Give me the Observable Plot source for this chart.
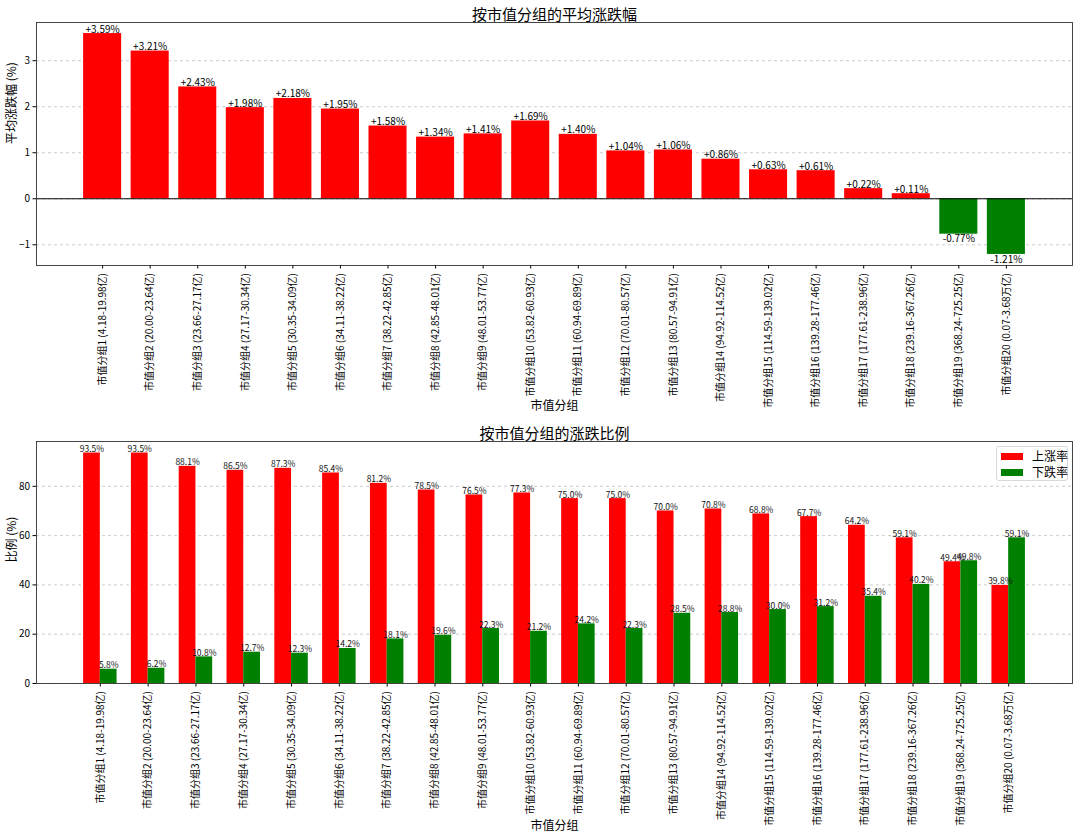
<!DOCTYPE html>
<html>
<head>
<meta charset="utf-8">
<script src="https://cdn.jsdelivr.net/npm/d3@7"></script>
<script src="https://cdn.jsdelivr.net/npm/@observablehq/plot@0.6"></script>
<style>
  body { margin: 0; background: #fff; font-family: "Noto Sans CJK SC", "Noto Sans", sans-serif; }
  #wrap { position: relative; width: 1080px; height: 839px; overflow: hidden; }
  #chartTop, #chartBot { display: block; line-height: 0; }
  #legend { position: absolute; left: 996px; top: 446px; width: 72px; height: 35px; box-sizing: border-box;
            border: 1px solid #d9d9d9; border-radius: 3px; background: #fff; font-size: 12px; color: #000; }
  #legend .row { position: absolute; left: 4px; height: 16px; line-height: 16px; white-space: nowrap; }
  #legend .sw { display: inline-block; width: 22px; height: 7px; vertical-align: middle; margin-right: 9px; margin-top: -2px; }
</style>
</head>
<body>
<div id="wrap">
  <div id="chartTop"></div>
  <div id="chartBot"></div>
  <div id="legend"></div>
</div>
<script>
// ---- data ----
const groups = ["市值分组1","市值分组2","市值分组3","市值分组4","市值分组5","市值分组6","市值分组7","市值分组8","市值分组9","市值分组10",
                "市值分组11","市值分组12","市值分组13","市值分组14","市值分组15","市值分组16","市值分组17","市值分组18","市值分组19","市值分组20"];
const ranges = ["4.18-19.98亿","20.00-23.64亿","23.66-27.17亿","27.17-30.34亿","30.35-34.09亿","34.11-38.22亿","38.22-42.85亿","42.85-48.01亿",
                "48.01-53.77亿","53.82-60.93亿","60.94-69.89亿","70.01-80.57亿","80.57-94.91亿","94.92-114.52亿","114.59-139.02亿",
                "139.28-177.46亿","177.61-238.96亿","239.16-367.26亿","368.24-725.25亿","0.07-3.68万亿"];
const avgChange = [3.59, 3.21, 2.43, 1.98, 2.18, 1.95, 1.58, 1.34, 1.41, 1.69, 1.40, 1.04, 1.06, 0.86, 0.63, 0.61, 0.22, 0.11, -0.77, -1.21];
const upRate    = [93.5, 93.5, 88.1, 86.5, 87.3, 85.4, 81.2, 78.5, 76.5, 77.3, 75.0, 75.0, 70.0, 70.8, 68.8, 67.7, 64.2, 59.1, 49.4, 39.8];
const downRate  = [5.8, 6.2, 10.8, 12.7, 12.3, 14.2, 18.1, 19.6, 22.3, 21.2, 24.2, 22.3, 28.5, 28.8, 30.0, 31.2, 35.4, 40.2, 49.8, 59.1];
const yTicksTop = [-1, 0, 1, 2, 3];
const yTicksBot = [0, 20, 40, 60, 80];
const seriesNames = ["上涨率", "下跌率"];
const titleTop = "按市值分组的平均涨跌幅";
const titleBot = "按市值分组的涨跌比例";
const yLabelTop = "平均涨跌幅 (%)";
const yLabelBot = "比例 (%)";
const xLabel = "市值分组";

// ---- styling constants ----
const UP = "#ff0000", DOWN = "#008000";
const FONT = "'Noto Sans CJK SC', 'Noto Sans', sans-serif";

const rows = groups.map((g, i) => ({
  i, label: `${g} (${ranges[i]})`, avg: avgChange[i], up: upRate[i], down: downRate[i]
}));
const n = rows.length;
const tickIdx = rows.map(d => d.i);
const intFmt = d => d < 0 ? "\u2212" + Math.abs(d) : String(d);

const grid = (ticks) => Plot.gridY(ticks, {stroke: "#b0b0b0", strokeOpacity: 0.8, strokeDasharray: "3,3", strokeWidth: 0.8});
const xAxis = () => Plot.axisX({ticks: tickIdx, tickFormat: i => rows[i].label, tickRotate: -90, tickSize: 3.5,
                                tickPadding: 4, fontSize: 10, fill: "#000", label: null});
const yAxis = (ticks) => Plot.axisY({ticks, tickFormat: intFmt, tickSize: 3.5, tickPadding: 3, fontSize: 10, fill: "#000", label: null});

// ---- top chart ----
const w1 = 0.8;
const xPad1 = 0.05 * ((n - 1) + w1);
const yMin = d3.min(avgChange), yMax = d3.max(avgChange), ySpan = yMax - yMin;

const chartTop = Plot.plot({
  width: 1080, height: 420,
  marginTop: 22, marginBottom: 155, marginLeft: 36, marginRight: 8,
  style: {fontFamily: FONT, fontSize: "10px", color: "#000", background: "#fff"},
  x: {type: "linear", domain: [-w1 / 2 - xPad1, n - 1 + w1 / 2 + xPad1]},
  y: {domain: [yMin - 0.05 * ySpan, yMax + 0.05 * ySpan]},
  marks: [
    grid(yTicksTop),
    Plot.rect(rows, {x1: d => d.i - w1 / 2, x2: d => d.i + w1 / 2, y1: 0, y2: "avg",
                     fill: d => d.avg >= 0 ? UP : DOWN}),
    Plot.ruleY([0], {stroke: "#000", strokeWidth: 1}),
    Plot.text(rows.filter(d => d.avg >= 0), {x: "i", y: "avg", text: d => `+${d.avg.toFixed(2)}%`,
                     lineAnchor: "bottom", dy: -1, fontSize: 10, fill: "#000"}),
    Plot.text(rows.filter(d => d.avg < 0), {x: "i", y: "avg", text: d => `${d.avg.toFixed(2)}%`,
                     lineAnchor: "top", dy: 1, fontSize: 10, fill: "#000"}),
    yAxis(yTicksTop),
    xAxis(),
    Plot.frame({stroke: "#333", strokeWidth: 0.9}),
    Plot.text([titleTop], {frameAnchor: "top", dy: -3, lineAnchor: "bottom", fontSize: 15}),
    Plot.text([yLabelTop], {frameAnchor: "left", dx: -24, rotate: -90, fontSize: 12}),
    Plot.text([xLabel], {frameAnchor: "bottom", dy: 144, fontSize: 12})
  ]
});
document.getElementById("chartTop").append(chartTop);

// ---- bottom chart ----
const w2 = 0.35;
const xPad2 = 0.05 * ((n - 1) + 2 * w2);
const upMax = d3.max([...upRate, ...downRate]);

const chartBot = Plot.plot({
  width: 1080, height: 419,
  marginTop: 21, marginBottom: 156, marginLeft: 36, marginRight: 8,
  style: {fontFamily: FONT, fontSize: "10px", color: "#000", background: "#fff"},
  x: {type: "linear", domain: [-w2 - xPad2, n - 1 + w2 + xPad2]},
  y: {domain: [0, upMax * 1.05]},
  marks: [
    grid(yTicksBot),
    Plot.rect(rows, {x1: d => d.i - w2, x2: d => d.i, y1: 0, y2: "up", fill: UP}),
    Plot.rect(rows, {x1: d => d.i, x2: d => d.i + w2, y1: 0, y2: "down", fill: DOWN}),
    Plot.text(rows, {x: d => d.i - w2 / 2, y: "up", text: d => `${d.up.toFixed(1)}%`,
                     lineAnchor: "bottom", dy: -1, fontSize: 8.5, fill: "#111"}),
    Plot.text(rows, {x: d => d.i + w2 / 2, y: "down", text: d => `${d.down.toFixed(1)}%`,
                     lineAnchor: "bottom", dy: -1, fontSize: 8.5, fill: "#111"}),
    yAxis(yTicksBot),
    xAxis(),
    Plot.frame({stroke: "#333", strokeWidth: 0.9}),
    Plot.text([titleBot], {frameAnchor: "top", dy: -3, lineAnchor: "bottom", fontSize: 15}),
    Plot.text([yLabelBot], {frameAnchor: "left", dx: -24, rotate: -90, fontSize: 12}),
    Plot.text([xLabel], {frameAnchor: "bottom", dy: 146, fontSize: 12})
  ]
});
document.getElementById("chartBot").append(chartBot);

// ---- legend ----
const legend = document.getElementById("legend");
[UP, DOWN].forEach((c, k) => {
  const row = document.createElement("div");
  row.className = "row";
  row.style.top = (k === 0 ? 1 : 17) + "px";
  const sw = document.createElement("span");
  sw.className = "sw";
  sw.style.background = c;
  row.append(sw, document.createTextNode(seriesNames[k]));
  legend.append(row);
});
</script>
</body>
</html>
